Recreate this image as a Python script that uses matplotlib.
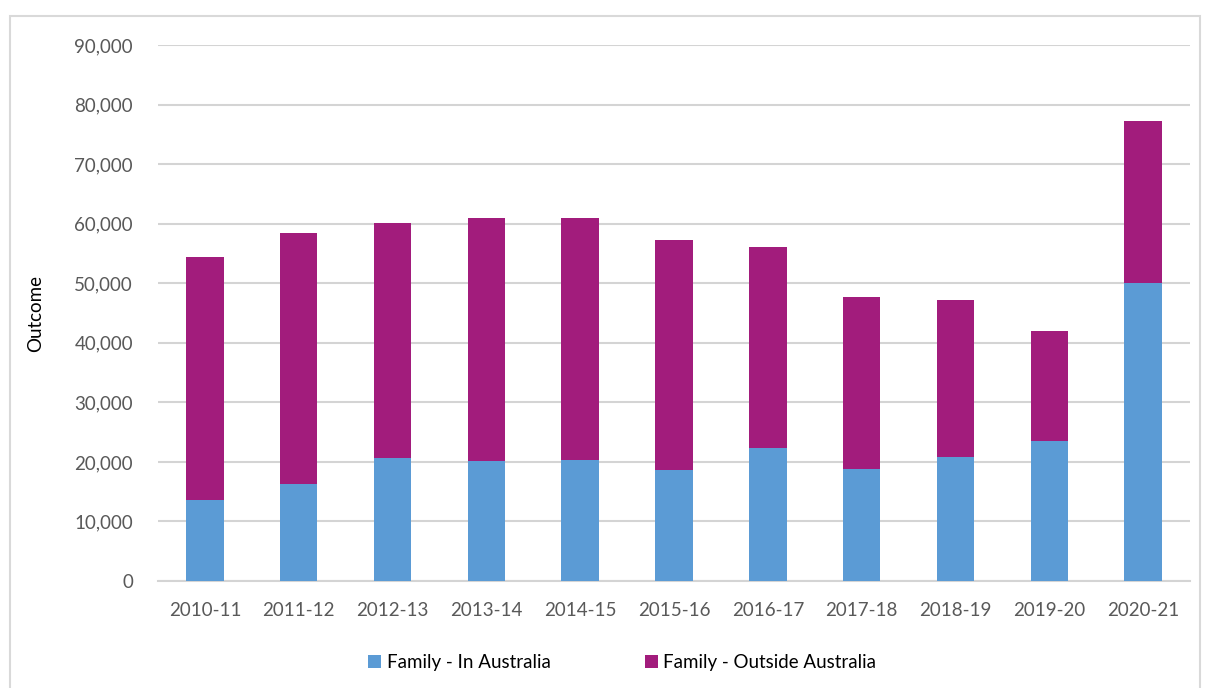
import matplotlib
matplotlib.use("Agg")
import matplotlib.pyplot as plt
from matplotlib.patches import Rectangle
from matplotlib.ticker import FuncFormatter

years = ["2010-11", "2011-12", "2012-13", "2013-14", "2014-15", "2015-16",
         "2016-17", "2017-18", "2018-19", "2019-20", "2020-21"]
in_australia = [13600, 16300, 20700, 20200, 20400, 18600, 22300, 18800, 20800, 23500, 50100]
total = [54400, 58400, 60100, 60900, 60900, 57300, 56100, 47700, 47200, 41900, 77300]
outside_australia = [t - i for t, i in zip(total, in_australia)]

plt.rcParams['font.family'] = ['Lato', 'DejaVu Sans']

fig = plt.figure(figsize=(12.05, 6.88), dpi=100)
ax = fig.add_axes([0.1311, 0.1555, 0.8565, 0.7791])

# outer chart border
fig.patches.append(Rectangle((10 / 1205, -0.01), 1190 / 1205, 0.987, transform=fig.transFigure,
                             fill=False, edgecolor='#d9d9d9', linewidth=1.5))

x = range(len(years))
ax.bar(x, in_australia, width=0.4, color='#5b9bd5', label='Family - In Australia', zorder=3)
ax.bar(x, outside_australia, width=0.4, bottom=in_australia, color='#a21c7c',
       label='Family - Outside Australia', zorder=3)

ax.set_ylim(0, 90000)
ax.set_xlim(-0.5, len(years) - 0.5)
ax.set_yticks(range(0, 90001, 10000))
ax.yaxis.set_major_formatter(FuncFormatter(lambda v, p: f"{int(v):,}"))
ax.set_xticks(list(x))
ax.set_xticklabels(years)
ax.grid(axis='y', color='#d4d4d4', linewidth=1.5, zorder=0)
for s in ['top', 'right', 'left']:
    ax.spines[s].set_visible(False)
ax.spines['bottom'].set_color('#d4d4d4')
ax.spines['bottom'].set_linewidth(1.5)
ax.tick_params(length=0, labelsize=13.5, labelcolor='#595959', pad=15)
ax.tick_params(axis='y', pad=18)

ax.set_ylabel("Outcome", fontsize=13.5, color='black', labelpad=22)

ax.legend(loc='upper center', bbox_to_anchor=(0.45, -0.105), ncol=2, frameon=False,
          fontsize=13.5, handlelength=0.7, handleheight=0.7, handletextpad=0.3, columnspacing=5)

fig.savefig("out.png", dpi=100)
